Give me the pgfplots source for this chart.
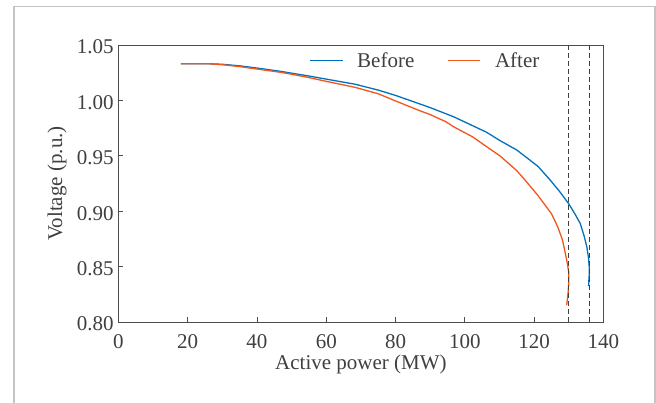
\documentclass[border=0pt]{standalone}
\usepackage{fontspec}
\setmainfont{Liberation Serif}
\usepackage{pgfplots}
\pgfplotsset{compat=1.18}
\definecolor{cBefore}{RGB}{0,114,189}
\definecolor{cAfter}{RGB}{243,86,26}
\definecolor{txt}{RGB}{64,64,64}
\definecolor{axc}{RGB}{78,78,78}
\definecolor{framec}{RGB}{196,196,196}
\begin{document}
\begin{tikzpicture}
\useasboundingbox (0,0) rectangle (656bp,403bp);
\fill[white] (0,0) rectangle (656bp,403bp);
\draw[framec, line width=1.5bp] (14bp,-2bp) -- (14bp,396.5bp) -- (655bp,396.5bp) -- (655bp,-2bp);
\begin{axis}[
  at={(118.4bp,81bp)}, anchor=south west,
  scale only axis, width=485bp, height=277bp,
  xmin=0, xmax=140, ymin=0.8, ymax=1.05,
  xtick={0,20,40,60,80,100,120,140},
  ytick={0.8,0.85,0.9,0.95,1,1.05},
  tick pos=left, tick align=inside, major tick length=5bp,
  axis line style={axc, line width=0.9bp},
  every tick/.style={axc, line width=0.9bp},
  /pgf/number format/assume math mode=true,
  tick label style={font=\fontsize{21bp}{25bp}\selectfont, text=txt},
  xticklabel style={inner sep=0pt, yshift=-12bp},
  yticklabel style={inner sep=0pt, xshift=-4.6bp, yshift=-2bp, /pgf/number format/.cd, fixed, fixed zerofill, precision=2},
  xlabel={Active power (MW)}, ylabel={Voltage (p.u.)},
  label style={font=\fontsize{21bp}{25bp}\selectfont, text=txt},
  xlabel style={at={(axis description cs:0.5,-0.155)}, anchor=center},
  ylabel style={at={(axis description cs:-0.1266,0.5)}, anchor=center},
  legend columns=2,
  legend image code/.code={\draw[#1] (0bp,0bp) -- (32.4bp,0bp);},
  legend style={at={(axis description cs:0.3936,0.9433)}, anchor=west, draw=none, fill=none, inner sep=0pt,
    font=\fontsize{21bp}{25bp}\selectfont, text=txt, nodes={inner sep=0pt},
    /tikz/every odd column/.append style={column sep=14bp},
    /tikz/every even column/.append style={column sep=33bp}},
]
\addplot[cBefore, line width=1.3bp, line join=round] coordinates {
(18,1.033)(26.5,1.033)(30,1.0326)(35,1.0312)(40,1.0292)(46.7,1.0263)(50,1.0246)(55,1.0220)(60,1.0192)(68.3,1.0146)(75,1.0093)(80,1.0045)(87,0.9968)(90,0.9935)(96.7,0.9853)(100,0.9805)(106.3,0.9712)(110,0.9640)(115,0.9552)(118,0.9480)(121.2,0.9402)(124.6,0.9282)(127.3,0.918)(129.9,0.9071)(131.7,0.898)(133.3,0.889)(134.4,0.878)(135.2,0.868)(135.7,0.858)(135.9,0.850)(135.9,0.842)(135.7,0.8325)
};
\addplot[cAfter, line width=1.3bp, line join=round] coordinates {
(18,1.033)(26.5,1.033)(30,1.0322)(35,1.0305)(40,1.0283)(46.7,1.0254)(50,1.0236)(55,1.0206)(60,1.0172)(68.3,1.0118)(75,1.0060)(80,0.9995)(87,0.9907)(90,0.9872)(94.5,0.9808)(96.7,0.9763)(102.3,0.9670)(106.3,0.9582)(110.2,0.9498)(115,0.9366)(117.4,0.9280)(121,0.9146)(125,0.8978)(126.8,0.886)(128.2,0.874)(129.4,0.856)(130.0,0.845)(130.0,0.835)(129.8,0.826)(129.4,0.8153)
};
\addplot[forget plot, txt, line width=1bp, dash pattern=on 5bp off 3bp] coordinates {(130,0.8)(130,1.05)};
\addplot[forget plot, txt, line width=1bp, dash pattern=on 5bp off 3bp] coordinates {(135.9,0.8)(135.9,1.05)};
\legend{Before, After}
\end{axis}
\end{tikzpicture}
\end{document}
